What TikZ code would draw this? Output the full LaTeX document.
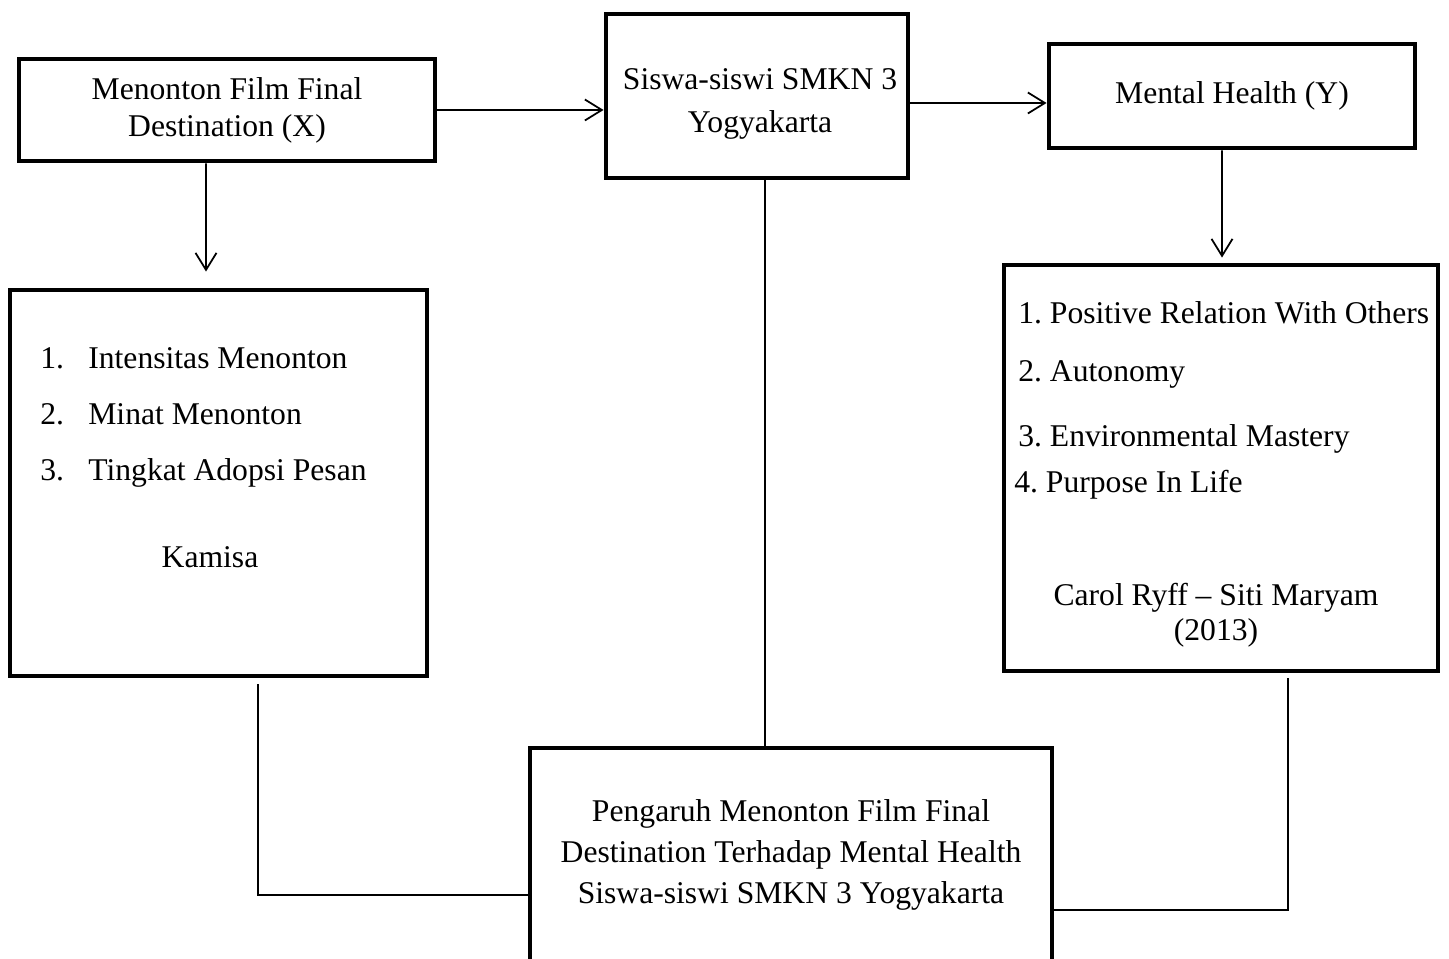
\documentclass[tikz,border=0pt]{standalone}
\usepackage{fontspec}
\setmainfont{Liberation Serif}
\frenchspacing
\usetikzlibrary{arrows.meta,positioning}
\tikzset{
    plain-box/.style = {draw=black, line width=2.8pt, rectangle, inner sep=0pt, align=center, font=\fontsize{18}{21}\selectfont},
    plain-text/.style = {inner sep=0pt, font=\fontsize{18}{21}\selectfont},
    arrow-line/.style = {draw=black, line width=1pt, -{Straight Barb[length=0.34cm,width=0.42cm]}},
    link-line/.style = {draw=black, line width=1pt},
}

\begin{document}
\begin{tikzpicture}
\useasboundingbox (0,0) rectangle (28.98,-19.18);

\node [plain-box, minimum width=8.32cm, minimum height=2.04cm] (film) at (4.54,-2.20) {Menonton Film Final\\Destination (X)};
\node [plain-box, minimum width=6.04cm, minimum height=3.28cm] (siswa) at (15.14,-1.92) {};
\node [plain-box, minimum width=7.32cm, minimum height=2.08cm] (mental) at (24.64,-1.92) {Mental Health (Y)};
\node [plain-box, minimum width=8.34cm, minimum height=7.72cm] (indX) at (4.37,-9.66) {};
\node [plain-box, minimum width=8.68cm, minimum height=8.12cm] (indY) at (24.42,-9.36) {};
\node [plain-box, minimum width=10.44cm, minimum height=4.84cm] (judul) at (15.82,-17.38) {};

\node [plain-text, align=center, font=\fontsize{18}{24}\selectfont] (siswa-text) at (15.20,-2.08) {Siswa-siswi SMKN 3\\Yogyakarta};

\node [plain-text, anchor=base west] (x1) at (0.80,-7.38) {\makebox[0.96cm][l]{1.}Intensitas Menonton};
\node [plain-text, anchor=base west] (x2) at (0.80,-8.50) {\makebox[0.96cm][l]{2.}Minat Menonton};
\node [plain-text, anchor=base west] (x3) at (0.80,-9.62) {\makebox[0.96cm][l]{3.}Tingkat Adopsi Pesan};
\node [plain-text, anchor=base] (kamisa) at (4.20,-11.36) {Kamisa};

\node [plain-text, anchor=base west] (y1) at (20.36,-6.48) {1. Positive Relation With Others};
\node [plain-text, anchor=base west] (y2) at (20.36,-7.64) {2. Autonomy};
\node [plain-text, anchor=base west] (y3) at (20.36,-8.94) {3. Environmental Mastery};
\node [plain-text, anchor=base west] (y4) at (20.28,-9.86) {4. Purpose In Life};
\node [plain-text, anchor=base] (ryff) at (24.32,-12.10) {Carol Ryff -- Siti Maryam};
\node [plain-text, anchor=base] (tahun) at (24.32,-12.82) {(2013)};

\node [plain-text, align=center, font=\fontsize{18}{23.5}\selectfont] (judul-text) at (15.82,-17.10) {Pengaruh Menonton Film Final\\Destination Terhadap Mental Health\\Siswa-siswi SMKN 3 Yogyakarta};

\draw [arrow-line] (film.east) -- (film.east -| siswa.west);
\draw [arrow-line] ([yshift=-0.14cm]siswa.east) -- ([yshift=-0.14cm]siswa.east -| mental.west);
\draw [arrow-line] ([xshift=-0.42cm]film.south) -- ([xshift=-0.25cm,yshift=0.32cm]indX.north);
\draw [arrow-line] ([xshift=-0.20cm]mental.south) -- ([xshift=0.02cm,yshift=0.10cm]indY.north);
\draw [link-line] ([xshift=0.16cm]siswa.south) -- ([xshift=0.16cm]siswa.south |- judul.north);
\draw [link-line] ([xshift=0.79cm,yshift=-0.12cm]indX.south) |- ([yshift=-0.52cm]judul.west);
\draw [link-line] ([xshift=1.34cm,yshift=-0.10cm]indY.south) |- ([yshift=-0.82cm]judul.east);
\end{tikzpicture}
\end{document}
